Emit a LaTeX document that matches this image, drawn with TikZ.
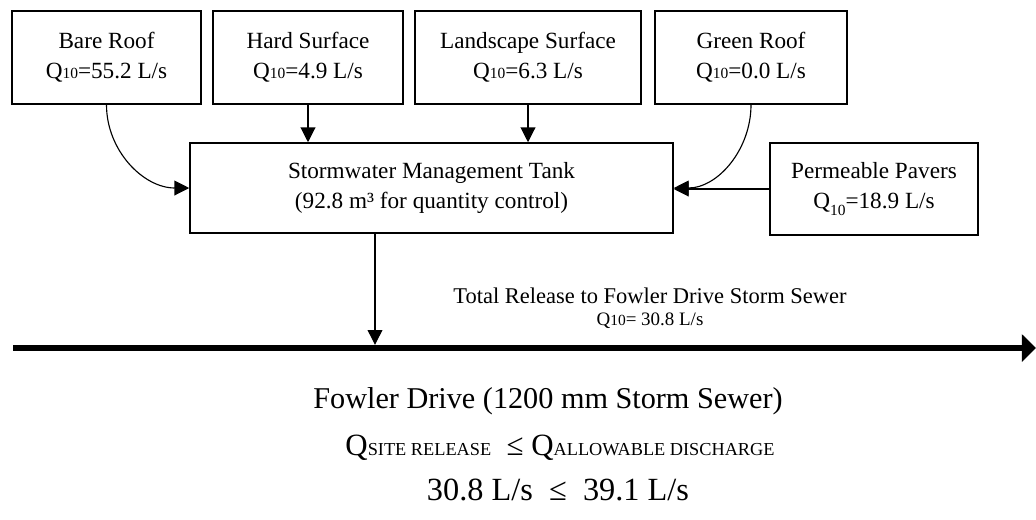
\documentclass[tikz,border=0pt]{standalone}
\usepackage{fontspec}
\setmainfont{Liberation Serif}
\usepackage{tikz}
\usetikzlibrary{arrows.meta}
\pgfdeclarelayer{bg}
\pgfsetlayers{bg,main}
\newcommand{\boxfont}{\fontsize{16.5}{21.5}\selectfont}
\newcommand{\lowten}{{\fontsize{11}{11}\selectfont 10}}
\newcommand{\smallcapsize}{\fontsize{13}{13}\selectfont}

\begin{document}
\begin{tikzpicture}[
        box/.style={draw, line width=1.1pt, align=center, inner sep=0pt, font=\boxfont},
        note/.style={align=center, inner sep=0pt},
        flow/.style={line width=0.8pt, -{Triangle[length=10.5pt,width=10.5pt]}},
        sewer/.style={line width=4.6pt, -{Triangle[length=10pt,width=19pt]}}]
        \useasboundingbox (0cm, 0cm) rectangle (25.9cm, -12.975cm);
        \node (bare) [box, minimum width=4.725cm, minimum height=2.325cm] at (2.662500cm, -1.437500cm) {Bare Roof\\Q\lowten=55.2 L/s};
        \node (hard) [box, minimum width=4.750cm, minimum height=2.325cm] at (7.700000cm, -1.437500cm) {Hard Surface\\Q\lowten=4.9 L/s};
        \node (land) [box, minimum width=5.650cm, minimum height=2.325cm] at (13.200000cm, -1.437500cm) {Landscape Surface\\Q\lowten=6.3 L/s};
        \node (green) [box, minimum width=4.800cm, minimum height=2.325cm] at (18.775000cm, -1.437500cm) {Green Roof\\Q\lowten=0.0 L/s};
        \node (tank) [box, minimum width=12.075cm, minimum height=2.250cm] at (10.787500cm, -4.700000cm) {Stormwater Management Tank\\(92.8 m³ for quantity control)};
        \node (pavers) [box, minimum width=5.200cm, minimum height=2.300cm] at (21.850000cm, -4.725000cm) {Permeable Pavers\\Q\raisebox{-0.7ex}{\lowten}=18.9 L/s};
        \node (release) [note, font=\fontsize{16}{16}\selectfont] at (16.250000cm, -7.700000cm) {Total Release to Fowler Drive Storm Sewer\\{\fontsize{13.5}{15.5}\selectfont Q\lowten= 30.8 L/s}};
        \node (street) [note, font=\fontsize{21.5}{22}\selectfont] at (13.700000cm, -10.020000cm) {Fowler Drive (1200 mm Storm Sewer)};
        \node (compare) [note, font=\fontsize{22}{22}\selectfont] at (14.000000cm, -11.200000cm) {Q{\smallcapsize SITE RELEASE}\ \ ≤ Q{\smallcapsize ALLOWABLE DISCHARGE}};
        \node (result) [note, font=\fontsize{23}{23}\selectfont] at (13.950000cm, -12.250000cm) {30.8 L/s\ \ ≤\ \ 39.1 L/s};
        \coordinate (drop) at (9.375000cm, -8.620000cm);
        \coordinate (road0) at (0.325000cm, -8.700000cm);
        \coordinate (road1) at (25.900000cm, -8.700000cm);
        \begin{pgfonlayer}{bg}
                \draw (bare.south) edge [flow, out=-90, in=180] (tank.west);
                \draw (hard.south) edge [flow] (hard.south |- tank.north);
                \draw (land.south) edge [flow] (land.south |- tank.north);
                \draw (green.south) edge [flow, out=-90, in=0] (tank.east);
                \draw (pavers.west) edge [flow] (pavers.west -| tank.east);
                \draw (tank.south -| drop) edge [flow] (drop);
                \draw (road0) edge [sewer] (road1);
        \end{pgfonlayer}
\end{tikzpicture}
\end{document}
